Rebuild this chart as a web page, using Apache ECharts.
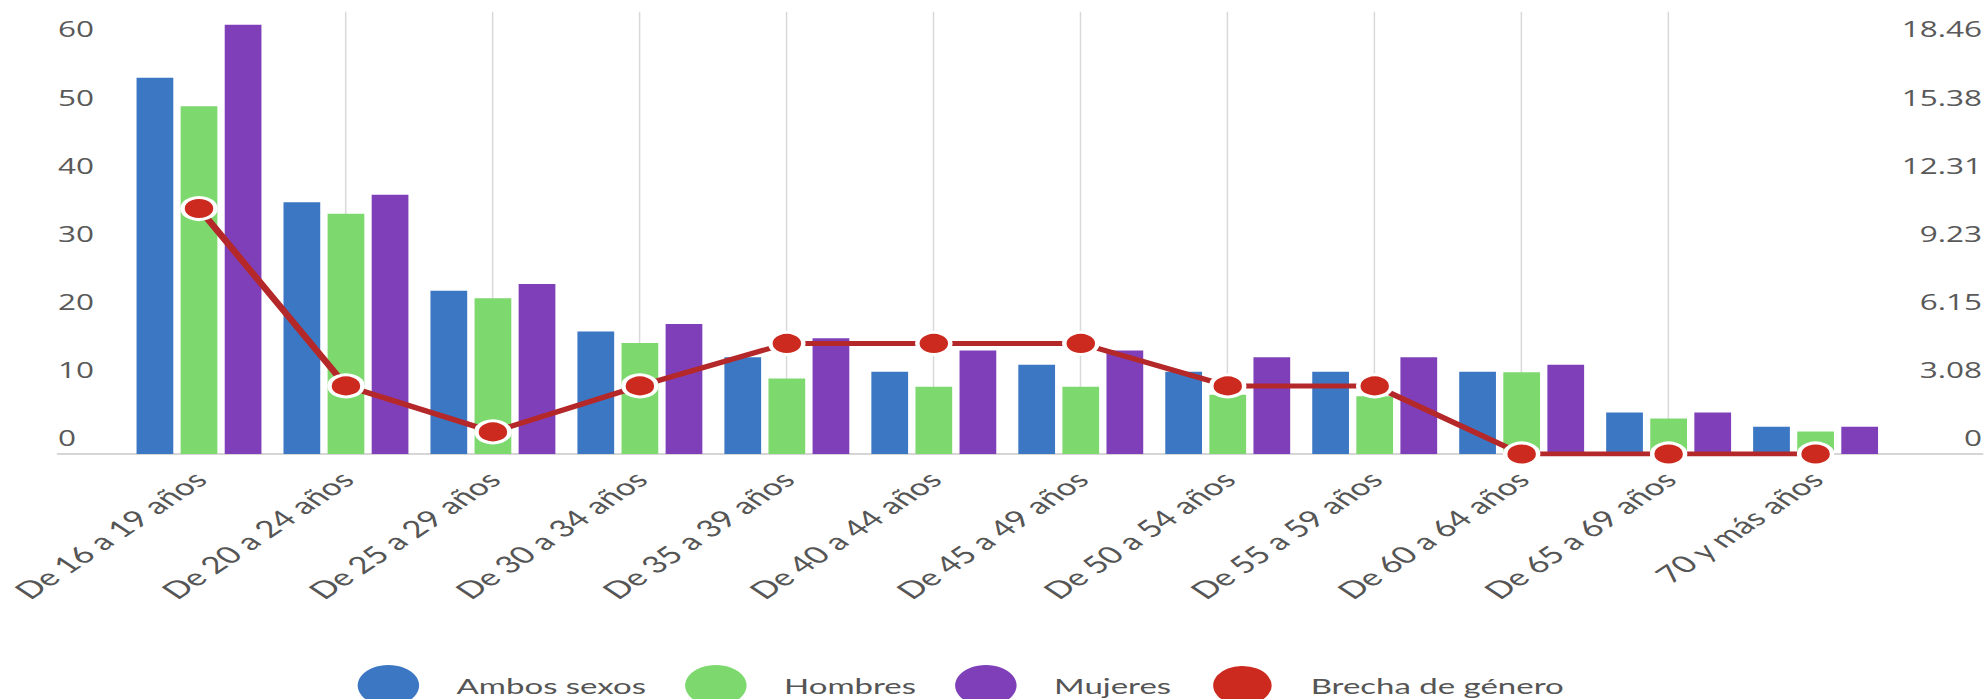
<!DOCTYPE html>
<html>
<head>
<meta charset="utf-8">
<script src="https://cdn.jsdelivr.net/npm/echarts@6/dist/echarts.min.js"></script>
<style>
html,body{margin:0;padding:0;background:#fff;overflow:hidden;width:1987px;height:699px}
#c{width:1325px;height:699px;transform:scaleX(1.49962);transform-origin:0 0}
</style>
</head>
<body>
<div id="c"></div>
<script>
const categories = ['De 16 a 19 años','De 20 a 24 años','De 25 a 29 años','De 30 a 34 años','De 35 a 39 años','De 40 a 44 años','De 45 a 49 años','De 50 a 54 años','De 55 a 59 años','De 60 a 64 años','De 65 a 69 años','70 y más años'];
const ambosSexos = [55.3, 37.0, 24.0, 18.0, 14.2, 12.1, 13.1, 12.1, 12.1, 12.1, 6.1, 4.0];
const hombres    = [51.1, 35.3, 22.9, 16.3, 11.1, 9.9, 9.9, 8.7, 8.5, 12.0, 5.2, 3.3];
const mujeres    = [63.1, 38.1, 25.0, 19.1, 17.0, 15.2, 15.2, 14.2, 14.2, 13.1, 6.1, 4.0];
const brecha     = [11.1, 3.08, 1.0, 3.08, 5.0, 5.0, 5.0, 3.08, 3.08, 0, 0, 0];
const seriesNames = ['Ambos sexos','Hombres','Mujeres','Brecha de género'];
const leftMax = 65, leftInterval = 10;
const rightMax = 20, rightInterval = 20 / 6.5;

const chart = echarts.init(document.getElementById('c'), null, {renderer: 'svg'});
const axisFont = {fontFamily: 'Open Sans', fontSize: 21, color: '#595959', verticalAlign: 'bottom', lineHeight: 33};
chart.setOption({
  animation: false,
  backgroundColor: '#fff',
  grid: [
    {left: 83.7, right: 65.3, top: 11.7, bottom: 245, outerBoundsMode: 'none', containLabel: false},
    {left: 38.7, right: 3.3, top: 11.7, bottom: 245, outerBoundsMode: 'none', containLabel: false}
  ],
  legend: {
    data: seriesNames,
    icon: 'circle',
    left: 233.5, top: 659,
    itemWidth: 41, itemHeight: 41, itemGap: 26,
    textStyle: {fontFamily: 'Lato', fontSize: 22, color: '#555', padding: [0, 0, 0, 20]}
  },
  xAxis: [
    {
      type: 'category', gridIndex: 0, data: categories,
      axisLine: {show: false}, axisTick: {show: false},
      splitLine: {show: true, alignWithLabel: true, showMinLine: false, showMaxLine: false, interval: 0, lineStyle: {color: '#d9d9d9', width: 1}},
      axisLabel: {interval: 0, rotate: 45, margin: 21, fontFamily: 'Lato', fontSize: 23.5, color: '#555'}
    },
    {
      type: 'value', gridIndex: 1, min: 0, max: 1,
      axisLine: {show: true, lineStyle: {color: '#d6d6d6', width: 2}},
      axisTick: {show: false}, axisLabel: {show: false}, splitLine: {show: false}
    }
  ],
  yAxis: [
    {
      type: 'value', gridIndex: 0, min: 0, max: leftMax, interval: leftInterval,
      axisLine: {show: false}, axisTick: {show: false}, splitLine: {show: false},
      axisLabel: Object.assign({showMaxLabel: false, align: 'left', margin: 45}, axisFont)
    },
    {
      type: 'value', gridIndex: 0, position: 'right', min: 0, max: rightMax, interval: rightInterval,
      axisLine: {show: false}, axisTick: {show: false}, splitLine: {show: false},
      axisLabel: Object.assign({showMaxLabel: false, align: 'right', margin: 62,
        formatter: v => (Math.abs(v) < 1e-9 ? '0' : v.toFixed(2))}, axisFont)
    },
    {
      type: 'value', gridIndex: 1, show: false, min: 0, max: 1
    }
  ],
  series: [
    {name: seriesNames[0], type: 'bar', data: ambosSexos, barWidth: 24.5, barGap: '20%', itemStyle: {color: '#3b77c3'}, z: 2},
    {name: seriesNames[1], type: 'bar', data: hombres, barWidth: 24.5, barGap: '20%', itemStyle: {color: '#7dd96e'}, z: 2},
    {name: seriesNames[2], type: 'bar', data: mujeres, barWidth: 24.5, barGap: '20%', itemStyle: {color: '#7f3fb9'}, z: 2},
    {name: seriesNames[3], type: 'line', yAxisIndex: 1, data: brecha, symbol: 'circle', symbolSize: 22,
      itemStyle: {color: '#cc2a1f', borderColor: '#fff', borderWidth: 3},
      lineStyle: {color: '#b5282a', width: 5}, z: 10}
  ]
});
</script>
</body>
</html>
